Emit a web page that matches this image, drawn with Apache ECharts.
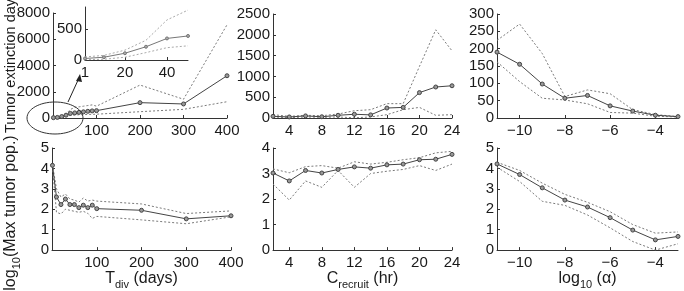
<!DOCTYPE html>
<html>
<head>
<meta charset="utf-8">
<script src="https://cdn.jsdelivr.net/npm/echarts@6/dist/echarts.min.js"></script>
<style>
html, body { margin: 0; padding: 0; background: #fff; }
#chart { width: 684px; height: 291px; }
</style>
</head>
<body>
<div id="chart"></div>
<script>
// --- T_div sweep (days)
const tdivX = [1, 10, 20, 30, 40, 50, 60, 70, 80, 90, 100, 200, 300, 400];
const extMean = [25, 45, 110, 215, 350, 390, 430, 470, 510, 540, 560, 1170, 1070, 3220];
const extHigh = [50, 75, 160, 320, 650, 810, 850, 900, 950, 1000, 900, 2510, 1430, 7100];
const extLow = [5, 12, 45, 120, 200, 230, 250, 260, 270, 280, 290, 480, 660, 1240];
const popMean = [4.15, 2.6, 2.23, 2.5, 2.23, 2.23, 2.08, 2.2, 2.08, 2.2, 2.03, 1.95, 1.53, 1.68];
const popHigh = [4.2, 3.0, 2.6, 2.75, 2.5, 2.45, 2.35, 2.55, 2.4, 2.45, 2.4, 2.26, 1.79, 1.92];
const popLow = [4.1, 1.85, 1.77, 2.0, 1.95, 1.9, 1.85, 1.9, 1.8, 1.55, 1.65, 1.48, 1.29, 1.63];

// inset shows the first six T_div points
const insetCount = 6;

// --- C_recruit sweep (hr)
const crecX = [2, 4, 6, 8, 10, 12, 14, 16, 18, 20, 22, 24];
const crecExtMean = [40, 25, 50, 30, 65, 90, 75, 240, 255, 610, 745, 775];
const crecExtHigh = [80, 40, 65, 55, 95, 175, 200, 345, 345, 1240, 2120, 1615];
const crecExtLow = [25, 5, 25, 15, 25, 5, 25, 80, 200, 255, 65, 80];
const crecPopMean = [3.02, 2.71, 3.12, 3.02, 3.16, 3.26, 3.21, 3.34, 3.37, 3.54, 3.56, 3.75];
const crecPopHigh = [3.18, 3.03, 3.27, 3.31, 3.21, 3.46, 3.37, 3.44, 3.54, 3.62, 3.81, 3.87];
const crecPopLow = [2.59, 1.96, 2.71, 2.46, 3.12, 2.46, 3.0, 3.09, 3.16, 3.31, 3.12, 3.37];

// --- log10(alpha) sweep
const alphaX = [-11, -10, -9, -8, -7, -6, -5, -4, -3];
const alphaExtMean = [190, 155, 98, 57, 65, 35, 20, 8, 4];
const alphaExtHigh = [224, 271, 186, 62, 81, 70, 24, 10, 4];
const alphaExtLow = [162, 105, 57, 52, 41, 16, 14, 5, 3];
const alphaPopMean = [4.22, 3.7, 3.05, 2.45, 2.11, 1.59, 0.98, 0.5, 0.67];
const alphaPopHigh = [4.3, 3.9, 3.28, 2.73, 2.34, 1.88, 1.25, 0.83, 0.89];
const alphaPopLow = [4.06, 3.36, 2.39, 2.19, 1.72, 1.09, 0.42, 0.0, 0.31];

// tick labels
const tdivTicks = [100, 200, 300, 400];
const insetXTicks = [1, 20, 40];
const insetYTicks = [0, 500];
const crecTicks = [4, 8, 12, 16, 20, 24];
const alphaTicks = [-10, -8, -6, -4];

const font = '"Liberation Sans", Arial, sans-serif';
const ink = '#1a1a1a';

const zip = (xs, ys) => xs.map((x, i) => [x, ys[i]]);
// plain numbers, no thousands separator, real minus sign
const fmt = (v) => String(v).replace('-', '\u2212');

const nameRich = {
	b: { fontSize: 16, lineHeight: 22, verticalAlign: 'middle', fontFamily: font, color: ink },
	s: { fontSize: 11, lineHeight: 22, verticalAlign: 'bottom', fontFamily: font, color: ink },
};

function axisBase() {
	return {
		axisLine: { show: true, lineStyle: { color: '#333', width: 1 } },
		axisTick: { show: true, inside: true, length: 3, lineStyle: { color: '#333' } },
		splitLine: { show: false },
		axisLabel: { color: ink, fontSize: 15, fontFamily: font, formatter: fmt },
	};
}

function xAxis(grid, min, max, ticks, name, gap) {
	const a = axisBase();
	a.type = 'value';
	a.gridIndex = grid;
	a.min = min;
	a.max = max;
	a.axisLabel.margin = 5;
	a.axisLabel.customValues = ticks;
	a.axisTick.customValues = ticks;
	if (name) {
		a.name = name;
		a.nameLocation = 'middle';
		a.nameGap = gap;
		a.nameTextStyle = { fontSize: 16, fontFamily: font, color: ink, rich: nameRich };
	}
	return a;
}

function yAxis(grid, max, interval) {
	const a = axisBase();
	a.type = 'value';
	a.gridIndex = grid;
	a.min = 0;
	a.max = max;
	a.interval = interval;
	a.axisLabel.margin = 3;
	return a;
}

// rotated y titles, placed by their centre
function yTitle(text, x, y, size) {
	return {
		type: 'text', x: x, y: y, rotation: Math.PI / 2,
		style: {
			text: text, fill: ink, fontSize: size || 16, fontFamily: font,
			align: 'center', verticalAlign: 'middle', rich: nameRich,
		},
	};
}

function band(idx, xs, ys, color) {
	return {
		type: 'line', xAxisIndex: idx, yAxisIndex: idx,
		data: zip(xs, ys), showSymbol: false, silent: true,
		lineStyle: { color: color || '#7a7a7a', width: 1, type: [2, 2] },
	};
}

function meanLine(idx, xs, ys, small) {
	return {
		type: 'line', xAxisIndex: idx, yAxisIndex: idx,
		data: zip(xs, ys), symbol: 'circle', symbolSize: small ? 3 : 4,
		lineStyle: { color: small ? '#777' : '#444', width: 1 },
		itemStyle: { color: small ? '#aaa' : '#999', borderColor: small ? '#777' : '#444', borderWidth: 1 },
	};
}

const chart = echarts.init(document.getElementById('chart'), null, { renderer: 'canvas' });

const option = {
	animation: false,
	backgroundColor: '#fff',
	grid: [
		{ left: 53, top: 13, width: 174, height: 105 },
		{ left: 273, top: 14, width: 179, height: 104 },
		{ left: 497, top: 14, width: 181, height: 104 },
		{ left: 52, top: 148, width: 179, height: 107 },
		{ left: 273, top: 148, width: 179, height: 107 },
		{ left: 497, top: 148, width: 181, height: 107 },
		{ left: 85, top: 7, width: 103, height: 53 },
	],
	xAxis: [
		xAxis(0, 0, 400, tdivTicks),
		xAxis(1, 2, 24, crecTicks),
		xAxis(2, -11, -3, alphaTicks),
		xAxis(3, 0, 400, tdivTicks, '{b|T}{s|div}{b| (days)}', 17),
		xAxis(4, 2, 24, crecTicks, '{b|C}{s|recruit}{b| (hr)}', 15),
		xAxis(5, -11, -3, alphaTicks, '{b|log}{s|10}{b| (α)}', 15),
		xAxis(6, 1, 50, insetXTicks),
	],
	yAxis: [
		yAxis(0, 8000, 2000),
		yAxis(1, 2500, 500),
		yAxis(2, 300, 50),
		yAxis(3, 5, 1),
		yAxis(4, 4, 1),
		yAxis(5, 5, 1),
		Object.assign(yAxis(6, 860, 500), {
			axisLabel: { color: ink, fontSize: 15, fontFamily: font, margin: 3, customValues: insetYTicks, formatter: fmt },
			axisTick: { show: true, inside: true, length: 3, customValues: insetYTicks, lineStyle: { color: '#333' } },
		}),
	],
	series: [
		band(0, tdivX, extHigh), band(0, tdivX, extLow), meanLine(0, tdivX, extMean),
		band(1, crecX, crecExtHigh), band(1, crecX, crecExtLow), meanLine(1, crecX, crecExtMean),
		band(2, alphaX, alphaExtHigh), band(2, alphaX, alphaExtLow), meanLine(2, alphaX, alphaExtMean),
		band(3, tdivX, popHigh), band(3, tdivX, popLow), meanLine(3, tdivX, popMean),
		band(4, crecX, crecPopHigh), band(4, crecX, crecPopLow), meanLine(4, crecX, crecPopMean),
		band(5, alphaX, alphaPopHigh), band(5, alphaX, alphaPopLow), meanLine(5, alphaX, alphaPopMean),
		band(6, tdivX.slice(0, insetCount), extHigh.slice(0, insetCount), '#aaa'),
		band(6, tdivX.slice(0, insetCount), extLow.slice(0, insetCount), '#aaa'),
		meanLine(6, tdivX.slice(0, insetCount), extMean.slice(0, insetCount), true),
	],
	graphic: [
		yTitle('Tumor extinction day', 11, 66, 14.5),
		yTitle('{b|log}{s|10}{b|(Max tumor pop.)}', 11, 213),
		// zoom-in marker: ellipse round the origin and an arrow up to the inset
		{
			type: 'ellipse', shape: { cx: 55, cy: 118, rx: 28, ry: 16 },
			style: { fill: 'none', stroke: '#333', lineWidth: 1 }, z: 10,
		},
		{
			type: 'line', shape: { x1: 68, y1: 102, x2: 79, y2: 78 },
			style: { stroke: '#222', lineWidth: 1 }, z: 10,
		},
		{
			type: 'polygon', shape: { points: [[80, 74], [76, 81], [82, 82]] },
			style: { fill: '#222' }, z: 10,
		},
	],
};

chart.setOption(option);
</script>
</body>
</html>
